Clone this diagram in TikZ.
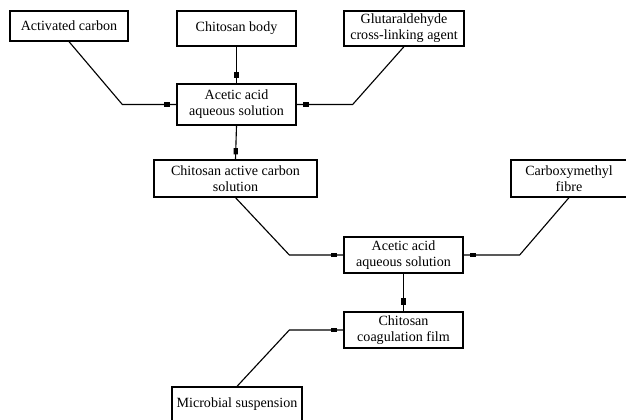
\documentclass[tikz,border=0pt]{standalone}
\usepackage{fontspec}
\setmainfont{Liberation Serif}
\begin{document}
\begin{tikzpicture}[x=0.025cm, y=-0.025cm,
    box/.style={draw, line width=0.9pt, align=center, inner sep=1pt,
      font=\fontsize{10}{11.5}\selectfont},
    feed/.style={line width=0.8pt},
    tip/.style={fill, sloped, inner sep=0, minimum width=4.5pt, minimum height=3pt}]
    \useasboundingbox (0,0) rectangle (626,420);
    % raw materials
    \node[box, minimum width=2.95cm, minimum height=0.75cm] (carbon) at (69,26) {Activated carbon};
    \node[box, minimum width=2.975cm, minimum height=0.875cm] (body) at (236.5,28.5) {Chitosan body};
    \node[box, minimum width=3cm, minimum height=0.875cm] (glut) at (404,28.5) {Glutaraldehyde\\cross-linking agent};
    \node[box, minimum width=2.975cm, minimum height=1.025cm] (acid1) at (236.5,104.5) {Acetic acid\\aqueous solution};
    % second stage
    \node[box, minimum width=4.075cm, minimum height=0.925cm] (cacs) at (235.5,178.5) {Chitosan active carbon\\solution};
    \node[box, minimum width=2.9cm, minimum height=0.925cm] (carboxy) at (569,178.5) {Carboxymethyl\\fibre};
    \node[box, minimum width=2.975cm, minimum height=0.9cm] (acid2) at (403.5,255) {Acetic acid\\aqueous solution};
    \node[box, minimum width=2.975cm, minimum height=0.9cm] (film) at (403.5,330) {Chitosan\\coagulation film};
    \node[box, minimum width=3.25cm, minimum height=0.875cm] (microbe) at (237,404.5) {Microbial suspension};

    \draw[feed] (body.south) -- node[tip, pos=0.78]{} (acid1.north);
    \draw[feed] (carbon.south) -- ([xshift=-1.35cm]acid1.west) -- node[tip, pos=0.83]{} (acid1.west);
    \draw[feed] (glut.south) -- ([xshift=1.4cm]acid1.east) -- node[tip, pos=0.83]{} (acid1.east);
    \draw[feed] (acid1.south) -- node[tip, pos=0.76]{} (cacs.north);

    \draw[feed] (cacs.south) -- ([xshift=-1.35cm]acid2.west) -- node[tip, pos=0.83]{} (acid2.west);
    \draw[feed] (carboxy.south) -- ([xshift=1.4cm]acid2.east) -- node[tip, pos=0.83]{} (acid2.east);
    \draw[feed] (acid2.south) -- node[tip, pos=0.74]{} (film.north);
    \draw[feed] (microbe.north) -- ([xshift=-1.35cm]film.west) -- node[tip, pos=0.83]{} (film.west);
\end{tikzpicture}
\end{document}
